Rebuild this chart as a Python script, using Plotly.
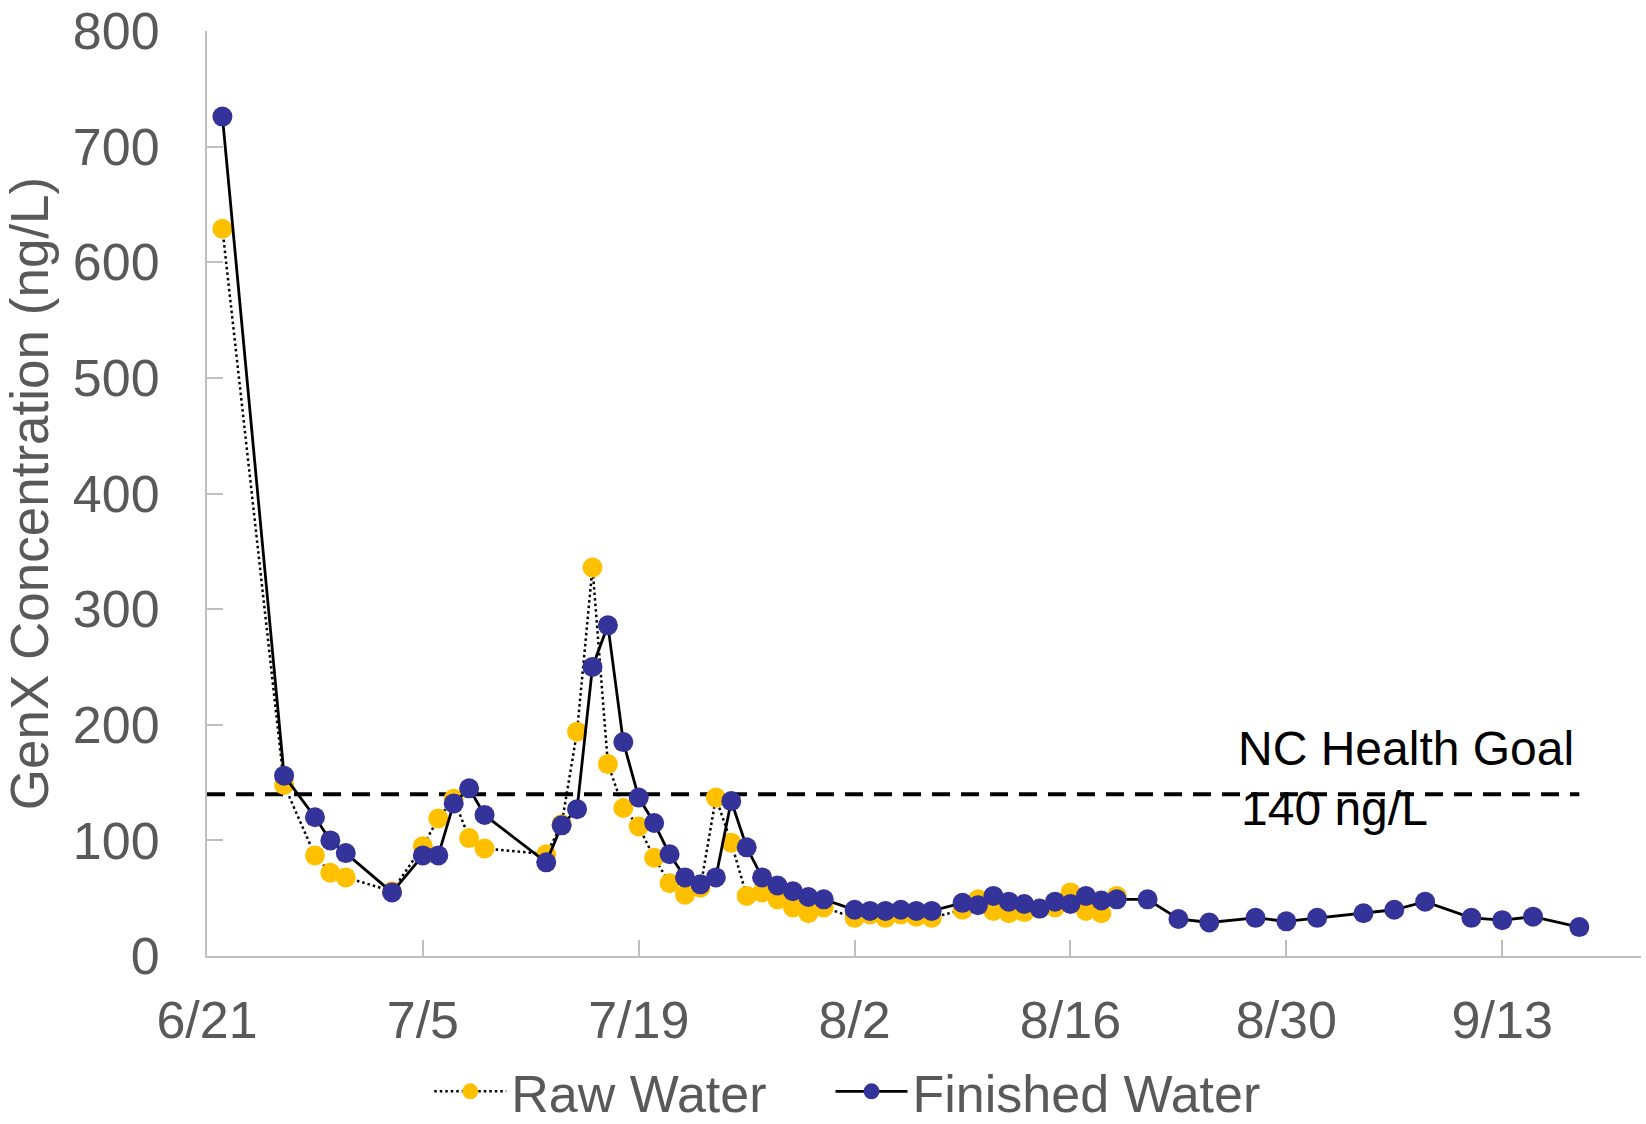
import plotly.graph_objects as go

# ---------------- data ----------------
finished_dates = [
    "2017-06-22", "2017-06-26", "2017-06-28", "2017-06-29", "2017-06-30", "2017-07-03",
    "2017-07-05", "2017-07-06", "2017-07-07", "2017-07-08", "2017-07-09", "2017-07-13",
    "2017-07-14", "2017-07-15", "2017-07-16", "2017-07-17", "2017-07-18", "2017-07-19",
    "2017-07-20", "2017-07-21", "2017-07-22", "2017-07-23", "2017-07-24", "2017-07-25",
    "2017-07-26", "2017-07-27", "2017-07-28", "2017-07-29", "2017-07-30", "2017-07-31",
    "2017-08-02", "2017-08-03", "2017-08-04", "2017-08-05", "2017-08-06", "2017-08-07",
    "2017-08-09", "2017-08-10", "2017-08-11", "2017-08-12", "2017-08-13", "2017-08-14",
    "2017-08-15", "2017-08-16", "2017-08-17", "2017-08-18", "2017-08-19", "2017-08-21",
    "2017-08-23", "2017-08-25", "2017-08-28", "2017-08-30", "2017-09-01", "2017-09-04",
    "2017-09-06", "2017-09-08", "2017-09-11", "2017-09-13", "2017-09-15", "2017-09-18",
]
finished_water = [
    726, 156, 120, 100, 89, 55,
    87, 87, 132, 145, 122, 81,
    113, 127, 250, 286, 185, 137,
    115, 88, 68, 62, 68, 134,
    94, 68, 61, 56, 51, 49,
    40, 39, 39, 40, 39, 39,
    46, 44, 52, 47, 45, 41,
    47, 45, 52, 48, 49, 49,
    32, 29, 33, 30, 33, 37,
    40, 47, 33, 31, 34, 25,
]

raw_dates = finished_dates[:47]
raw_water = [
    629, 148, 87, 72, 68, 56,
    95, 119, 136, 102, 93, 88,
    114, 194, 336, 166, 128, 112,
    85, 63, 53, 59, 137, 98,
    52, 55, 49, 42, 37, 42,
    33, 36, 33, 36, 34, 33,
    40, 49, 39, 37, 38, 41,
    42, 55, 39, 37, 52,
]

goal_dates = ["2017-06-21", "2017-09-18"]
goal_values = [140, 140]

x_tick_dates = ["2017-06-21", "2017-07-05", "2017-07-19", "2017-08-02",
                "2017-08-16", "2017-08-30", "2017-09-13"]
x_tick_labels = ["6/21", "7/5", "7/19", "8/2", "8/16", "8/30", "9/13"]
x_range = ["2017-06-21", "2017-09-22"]
y_range = [0, 800]

# ---------------- style ----------------
FONT = "Liberation Sans, Arial, sans-serif"
GRAY = "#595959"
AXIS_GRAY = "#BFBFBF"
YELLOW = "#FFC000"
BLUE = "#333399"

fig = go.Figure()

fig.add_trace(go.Scatter(
    x=goal_dates, y=goal_values, mode="lines",
    line=dict(color="black", width=4, dash="18px,11px"),
    showlegend=False, hoverinfo="skip",
))

fig.add_trace(go.Scatter(
    x=raw_dates, y=raw_water, mode="lines+markers", name="Raw Water",
    line=dict(color="black", width=2.5, dash="2.5px,3px"),
    marker=dict(color=YELLOW, size=20, line=dict(width=0)),
    legend="legend",
))

fig.add_trace(go.Scatter(
    x=finished_dates, y=finished_water, mode="lines+markers", name="Finished Water",
    line=dict(color="black", width=2.8),
    marker=dict(color=BLUE, size=20, line=dict(width=0)),
    legend="legend2",
))

fig.add_annotation(
    text="NC Health Goal", xref="paper", yref="paper",
    x=0.7176, y=0.2243, xanchor="left", yanchor="middle", showarrow=False,
    font=dict(family=FONT, size=48, color="black"),
)
fig.add_annotation(
    text="140 ng/L", xref="paper", yref="paper",
    x=0.7197, y=0.160, xanchor="left", yanchor="middle", showarrow=False,
    font=dict(family=FONT, size=48, color="black"),
)

legend_common = dict(
    orientation="h", y=-0.1903, xanchor="left", yanchor="bottom",
    font=dict(family=FONT, size=52, color=GRAY),
    bgcolor="rgba(0,0,0,0)", itemwidth=72,
)

fig.update_layout(
    width=1646, height=1124,
    margin=dict(l=207, r=5, t=31, b=168, autoexpand=False),
    paper_bgcolor="white", plot_bgcolor="white",
    font=dict(family=FONT, size=52, color=GRAY),
    showlegend=True,
    legend=dict(x=0.155, **legend_common),
    legend2=dict(x=0.4348, **legend_common),
    xaxis=dict(
        type="date", range=x_range,
        tickmode="array", tickvals=x_tick_dates, ticktext=x_tick_labels,
        showgrid=False, zeroline=False,
        showline=True, linecolor=AXIS_GRAY, linewidth=2,
        ticks="inside", ticklen=16, tickwidth=2, tickcolor=AXIS_GRAY,
        tickfont=dict(family=FONT, size=52, color=GRAY),
        ticklabelstandoff=18, ticklabeloverflow="allow",
    ),
    yaxis=dict(
        range=y_range, dtick=100, tick0=0,
        showgrid=False, zeroline=False,
        showline=True, linecolor=AXIS_GRAY, linewidth=2,
        ticks="inside", ticklen=16, tickwidth=2, tickcolor=AXIS_GRAY,
        tickfont=dict(family=FONT, size=52, color=GRAY),
        ticklabelstandoff=35, ticklabeloverflow="allow",
        automargin=True,
        title=dict(text="GenX Concentration (ng/L)", standoff=8,
                   font=dict(family=FONT, size=53, color=GRAY)),
    ),
)

# The page body has a default 8px margin; remove it so the figure fills the window.
fig.write_html(
    "out.html",
    config={"displayModeBar": False},
    post_script="document.body.style.margin='0px';",
)
